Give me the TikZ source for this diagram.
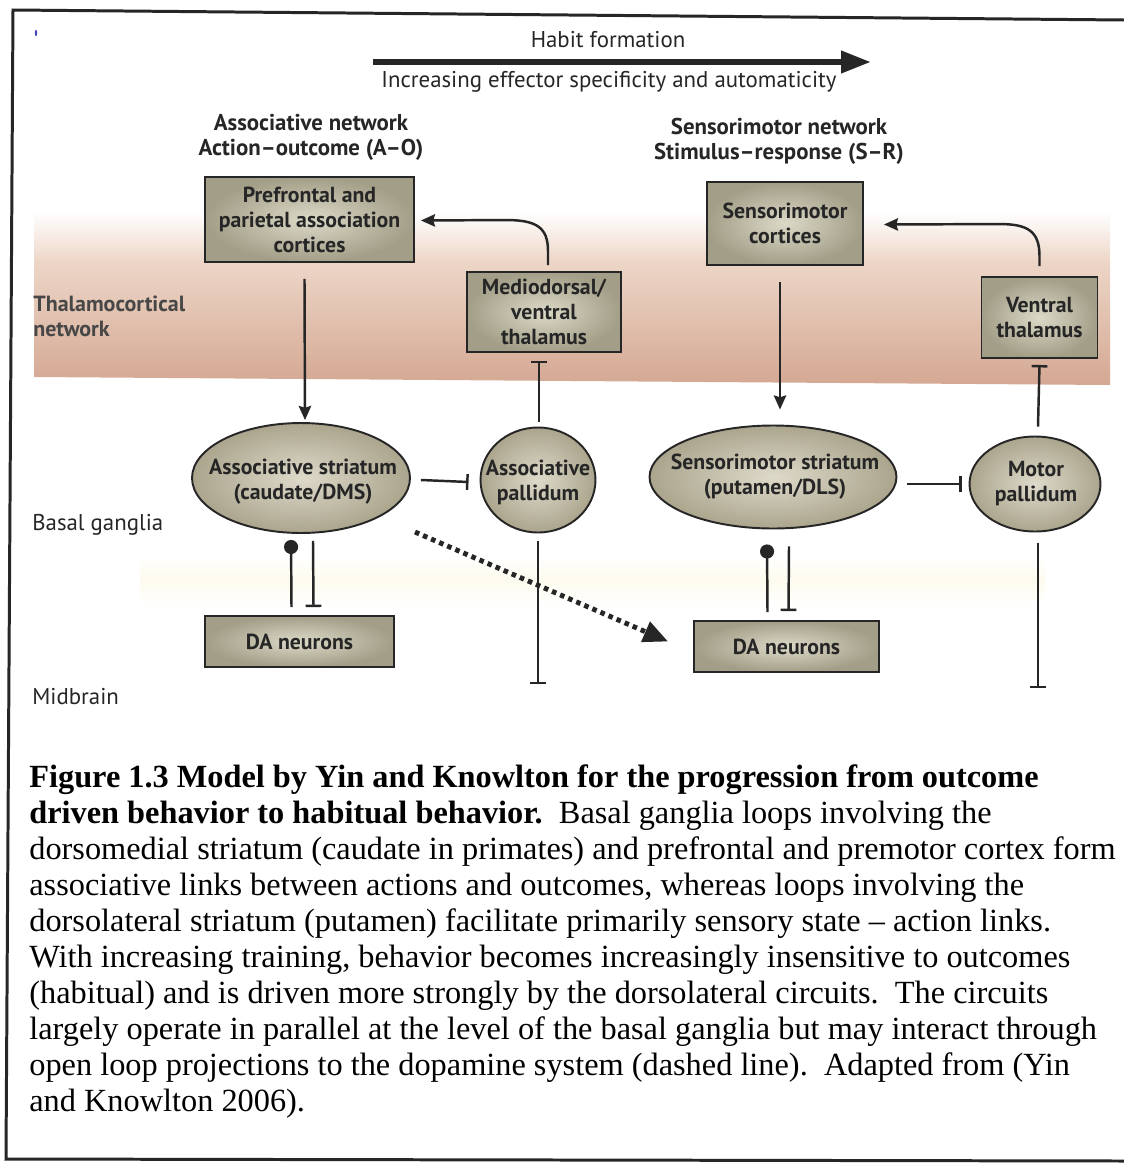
\documentclass[tikz,border=0pt]{standalone}
\usepackage{fontspec}
\setmainfont{Liberation Serif}
\newfontfamily\diag{PT Sans}
\usetikzlibrary{arrows.meta,shapes.geometric,calc}
\definecolor{ink}{HTML}{262626}
\definecolor{boxin}{HTML}{DCD9C8}
\definecolor{boxout}{HTML}{A29E87}
\definecolor{ellin}{HTML}{DEDACA}
\definecolor{ellout}{HTML}{ABA58D}
\definecolor{bandm}{HTML}{EDD6C7}
\definecolor{bandc}{HTML}{D4A893}
\definecolor{faintY}{HTML}{FDFBEE}
\newcommand\boxfont{\diag\bfseries\fontsize{12.4}{14.2}\selectfont}
\newcommand\headfont{\diag\bfseries\fontsize{13}{14.2}\selectfont}
\newcommand\plainfont{\diag\fontsize{13}{14.2}\selectfont}
\newcommand\capfont{\fontsize{18.4}{21}\selectfont}
\tikzset{
  boxnode/.style={draw=ink, line width=1.1pt, inner color=boxin, outer color=boxout, text=ink, font=\boxfont, align=center, inner sep=0pt},
  ellnode/.style={ellipse, draw=ink, line width=1.1pt, inner color=ellin, outer color=ellout, inner sep=0pt},
  lbl/.style={text=ink, font=\boxfont, align=center, inner sep=0pt},
  conn/.style={draw=ink, line width=1.4pt},
  inh/.style={conn, -{Bar[width=9pt]}},
  exc/.style={conn, -{Stealth[length=8pt,width=7pt,inset=1pt]}},
  dop/.style={conn, -{Circle[length=8pt]}},
  captext/.style={anchor=base west, inner sep=0pt, font=\capfont, text=black},
}
\begin{document}
\begin{tikzpicture}[x=0.02cm,y=-0.02cm]
\useasboundingbox (0,0) rectangle (1124,1163);
\fill[white] (0,0) rectangle (1124,1163);
% background bands
\shade[top color=white, bottom color=bandm] (34,212) rectangle (1110,262);
\shade[top color=bandm, bottom color=bandc] (34,261.5) -- (1110,261.5) -- (1110,385) -- (34,377) -- cycle;
\shade[top color=white, bottom color=white, middle color=faintY] (140,555) rectangle (1045,605);
% frame
\draw[line width=1.7pt, draw=ink] (1124,20) -- (13,10) -- (6,1159) -- (1124,1161);
\fill[blue!45!gray] (36,33) ellipse (0.7pt and 1.8pt);
% header
\node[font=\plainfont, text=ink, inner sep=0pt] (habit) at (608,40) {Habit formation};
\coordinate (hs) at (373,62);
\coordinate (he) at (871,62);
\draw[draw=ink, line width=3.6pt, -{Triangle[length=17pt,width=12pt]}] (hs) -- (he);
\node[font=\plainfont, text=ink, inner sep=0pt] (incr) at (609,82) {Increasing effector specificity and automaticity};
\node[font=\headfont, text=ink, align=center, inner sep=0pt] (aohead) at (311,137) {Associative network\\Action–outcome (A–O)};
\node[font=\headfont, text=ink, align=center, inner sep=0pt] (srhead) at (779,141) {Sensorimotor network\\Stimulus–response (S–R)};
% side labels
\node[font=\diag\bfseries\fontsize{12.5}{14.2}\selectfont, text=ink!85, align=left, anchor=west, inner sep=0pt] (thal) at (33,316) {Thalamocortical\\network};
\node[font=\plainfont, text=ink, anchor=west, inner sep=0pt] (bg) at (32,525) {Basal ganglia};
\node[font=\plainfont, text=ink, anchor=west, inner sep=0pt] (mid) at (32,697) {Midbrain};
% boxes
\node[boxnode, minimum width=4.18cm, minimum height=1.7cm] (ppc) at (309.5,219.5) {Prefrontal and\\parietal association\\cortices};
\node[boxnode, minimum width=3.12cm, minimum height=1.66cm] (smc) at (785,223.5) {Sensorimotor\\cortices};
\node[boxnode, minimum width=3.08cm, minimum height=1.6cm] (md) at (544,312) {Mediodorsal/\\ventral\\thalamus};
\node[boxnode, minimum width=2.32cm, minimum height=1.62cm] (vt) at (1039.5,317.5) {Ventral\\thalamus};
\node[boxnode, minimum width=3.78cm, minimum height=1.02cm] (da1) at (299.5,641.5) {DA neurons};
\node[boxnode, minimum width=3.7cm, minimum height=1.02cm] (da2) at (786.5,646.5) {DA neurons};
% ellipses
\node[ellnode, minimum width=4.36cm, minimum height=2.2cm] (as) at (301,478) {};
\node[lbl] (aslbl) at (303,482) {Associative striatum\\(caudate/DMS)};
\node[ellnode, minimum width=2.3cm, minimum height=2.1cm] (ap) at (538,480) {};
\node[lbl] (aplbl) at (538,482) {Associative\\pallidum};
\node[ellnode, minimum width=4.94cm, minimum height=2.06cm] (ss) at (773,477) {};
\node[lbl] (sslbl) at (775,477) {Sensorimotor striatum\\(putamen/DLS)};
\node[ellnode, minimum width=2.62cm, minimum height=1.9cm] (mp) at (1035,484) {};
\node[lbl] (mplbl) at (1036,484) {Motor\\pallidum};
% connectors: associative loop
\draw[exc] ($(ppc.south)+(-5,16)$) -- ($(as.north)+(4,-2)$);
\draw[exc] ($(md.north)+(4,-6)$) -- ($(md.north)+(4,-20)$) .. controls ($(md.north)+(4,-44)$) and ($(md.north)+(-8,-51)$) .. ($(md.north)+(-38,-51)$) -- ($(ppc.east)+(6,1)$);
\draw[inh] ($(ap.north)+(1,-5)$) -- ($(md.south)+(-5,8)$);
\draw[inh] ($(as.east)+(10,2)$) -- ($(ap.west)+(-11,2)$);
\draw[dop] ($(da1.north)+(-8,-8)$) -- ($(as.south)+(-10,6)$);
\draw[inh] ($(as.south)+(12,7)$) -- ($(da1.north)+(14,-8)$);
\coordinate (apend) at (538,684);
\draw[inh] ($(ap.south)+(0,8)$) -- (apend);
% connectors: sensorimotor loop
\draw[exc] ($(smc.south)+(-5,16)$) -- ($(ss.north)+(7,-15)$);
\draw[exc] ($(vt.north)+(0,-10)$) -- ($(vt.north)+(0,-20)$) .. controls ($(vt.north)+(0,-45)$) and ($(vt.north)+(-12,-52)$) .. ($(vt.north)+(-40,-52)$) -- ($(smc.east)+(20,1)$);
\draw[inh] ($(mp.north)+(3,-9)$) -- ($(vt.south)+(0,6)$);
\draw[inh] ($(ss.east)+(10,7)$) -- ($(mp.west)+(-7,0)$);
\draw[dop] ($(da2.north)+(-19,-8)$) -- ($(ss.south)+(-6,15)$);
\draw[inh] ($(ss.south)+(16,17)$) -- ($(da2.north)+(2,-9)$);
\coordinate (mpend) at (1038,688);
\draw[inh] ($(mp.south)+(3,11)$) -- (mpend);
% open-loop projection
\draw[draw=ink, line width=2.8pt, dash pattern=on 2.6pt off 2.4pt, -{Triangle[length=14pt,width=12pt]}] ($(as.center)+(114,54)$) -- ($(da2.west)+(-25,-5)$);
% caption
\node[captext] (c1) at (29,787) {\bfseries Figure 1.3 Model by Yin and Knowlton for the progression from outcome};
\node[captext] (c2) at (29,823) {{\bfseries driven behavior to habitual behavior.}\ \ Basal ganglia loops involving the};
\node[captext] (c3) at (29,859) {dorsomedial striatum (caudate in primates) and prefrontal and premotor cortex form};
\node[captext] (c4) at (29,895) {associative links between actions and outcomes, whereas loops involving the};
\node[captext] (c5) at (29,931) {dorsolateral striatum (putamen) facilitate primarily sensory state -- action links.};
\node[captext] (c6) at (29,967) {With increasing training, behavior becomes increasingly insensitive to outcomes};
\node[captext] (c7) at (29,1003) {(habitual) and is driven more strongly by the dorsolateral circuits.\ \ The circuits};
\node[captext] (c8) at (29,1039) {largely operate in parallel at the level of the basal ganglia but may interact through};
\node[captext] (c9) at (29,1075) {open loop projections to the dopamine system (dashed line).\ \ Adapted from (Yin};
\node[captext] (c10) at (29,1111) {and Knowlton 2006).};
\end{tikzpicture}
\end{document}
